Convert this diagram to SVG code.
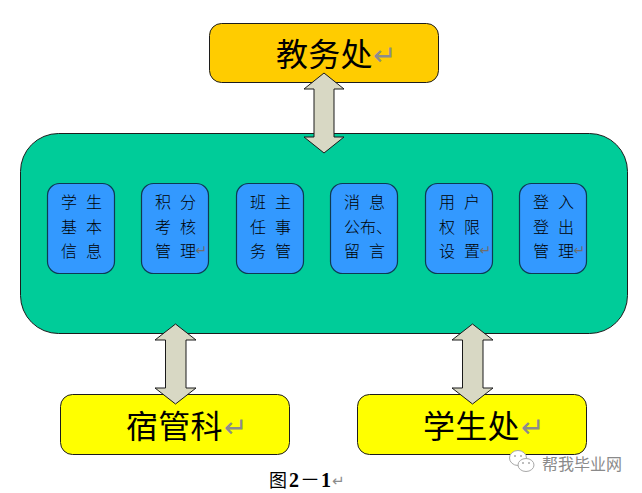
<svg xmlns="http://www.w3.org/2000/svg" width="642" height="493" viewBox="0 0 642 493">
  <style>
    text { font-family: "Liberation Serif", "Noto Sans CJK SC", sans-serif; fill: #000; }
    .box { stroke: #1c1c1c; stroke-width: 1; }
    .office { fill: #ffff00; }
    .module { fill: #3399ff; stroke: #0d3a52; stroke-width: 1.2; }
    .big { font-size: 32px; letter-spacing: 0.3px; }
    .small { font-size: 16px; font-weight: 300; }
    .mark { font-family: "DejaVu Sans", sans-serif; fill: #8c8c8c; }
    .mark-big { font-size: 28px; }
    .mark.mark-small { font-size: 14px; fill: #6e6e6e; }
    .link { fill: #d8d8c4; stroke: #1a1a1a; stroke-width: 1; stroke-linejoin: miter; }
  </style>

  <g id="system">
    <rect class="box" x="20.500" y="133.500" width="607" height="200" rx="38" fill="#00cc99"/>
  </g>

  <g id="jiaowu">
    <rect class="box" x="209.500" y="23.500" width="229" height="59" rx="12" fill="#ffcc00"/>
    <text class="big" x="276" y="66">教务处</text>
    <text class="mark mark-big" x="373" y="65">↵</text>
  </g>

  <g id="module-1">
    <rect class="module" x="47.500" y="183.500" width="67" height="90" rx="12"/>
    <text class="small" x="61" y="208">学</text><text class="small" x="86" y="208">生</text>
    <text class="small" x="61" y="233">基</text><text class="small" x="86" y="233">本</text>
    <text class="small" x="61" y="257">信</text><text class="small" x="86" y="257">息</text>
  </g>
  <g id="module-2">
    <rect class="module" x="141.500" y="183.500" width="67" height="90" rx="12"/>
    <text class="small" x="155" y="208">积</text><text class="small" x="180" y="208">分</text>
    <text class="small" x="155" y="233">考</text><text class="small" x="180" y="233">核</text>
    <text class="small" x="155" y="257">管</text><text class="small" x="180" y="257">理</text>
    <text class="mark mark-small" x="195.500" y="255">↵</text>
  </g>
  <g id="module-3">
    <rect class="module" x="236.500" y="183.500" width="67" height="90" rx="12"/>
    <text class="small" x="250" y="208">班</text><text class="small" x="275" y="208">主</text>
    <text class="small" x="250" y="233">任</text><text class="small" x="275" y="233">事</text>
    <text class="small" x="250" y="257">务</text><text class="small" x="275" y="257">管</text>
  </g>
  <g id="module-4">
    <rect class="module" x="330.500" y="183.500" width="67" height="90" rx="12"/>
    <text class="small" x="344" y="208">消</text><text class="small" x="369" y="208">息</text>
    <text class="small" x="344" y="233">公布、</text>
    <text class="small" x="344" y="257">留</text><text class="small" x="369" y="257">言</text>
  </g>
  <g id="module-5">
    <rect class="module" x="425.500" y="183.500" width="67" height="90" rx="12"/>
    <text class="small" x="439" y="208">用</text><text class="small" x="464" y="208">户</text>
    <text class="small" x="439" y="233">权</text><text class="small" x="464" y="233">限</text>
    <text class="small" x="439" y="257">设</text><text class="small" x="464" y="257">置</text>
    <text class="mark mark-small" x="479.500" y="255">↵</text>
  </g>
  <g id="module-6">
    <rect class="module" x="519.500" y="183.500" width="67" height="90" rx="12"/>
    <text class="small" x="533" y="208">登</text><text class="small" x="558" y="208">入</text>
    <text class="small" x="533" y="233">登</text><text class="small" x="558" y="233">出</text>
    <text class="small" x="533" y="257">管</text><text class="small" x="558" y="257">理</text>
    <text class="mark mark-small" x="573.500" y="255">↵</text>
  </g>

  <g id="susheke">
    <rect class="box office" x="60.500" y="394.500" width="229" height="60" rx="12"/>
    <text class="big" x="126" y="438">宿管科</text>
    <text class="mark mark-big" x="224" y="437">↵</text>
  </g>
  <g id="xueshengchu">
    <rect class="box office" x="357.500" y="394.500" width="229" height="60" rx="12"/>
    <text class="big" x="423" y="438">学生处</text>
    <text class="mark mark-big" x="521" y="437">↵</text>
  </g>

  <g id="connectors">
    <path class="link" d="M324 73 L344 89 H334 V137 H344 L324 153 L304 137 H314 V89 H304 Z"/>
    <path class="link" d="M175.500 324 L196 340 H186 V388 H196 L175.500 404 L155 388 H165.500 V340 H155 Z"/>
    <path class="link" d="M472.500 324 L493 340 H483 V388 H493 L472.500 404 L452 388 H462.500 V340 H452 Z"/>
  </g>

  <g id="caption">
    <text y="487" font-size="20"><tspan x="269" font-size="18">图</tspan><tspan x="289" font-weight="700">2</tspan><tspan x="300">－</tspan><tspan x="321" font-weight="700">1</tspan></text>
    <text class="mark" x="332" y="486" font-size="15">↵</text>
  </g>

  <g id="badge">
    <ellipse cx="518" cy="458" rx="8.500" ry="7.500" fill="#fff" stroke="#a8a8a8" stroke-width="1"/>
    <ellipse cx="526" cy="465" rx="8" ry="6.500" fill="#fff" stroke="#a8a8a8" stroke-width="1"/>
    <circle cx="515" cy="456" r="1" fill="#a8a8a8"/>
    <circle cx="521" cy="456" r="1" fill="#a8a8a8"/>
    <circle cx="523" cy="463" r="1" fill="#a8a8a8"/>
    <circle cx="529" cy="463" r="1" fill="#a8a8a8"/>
    <text x="542" y="470" font-size="16" style="font-family:'Noto Sans CJK SC',sans-serif;fill:#8a8a8a">帮我毕业网</text>
  </g>
</svg>
